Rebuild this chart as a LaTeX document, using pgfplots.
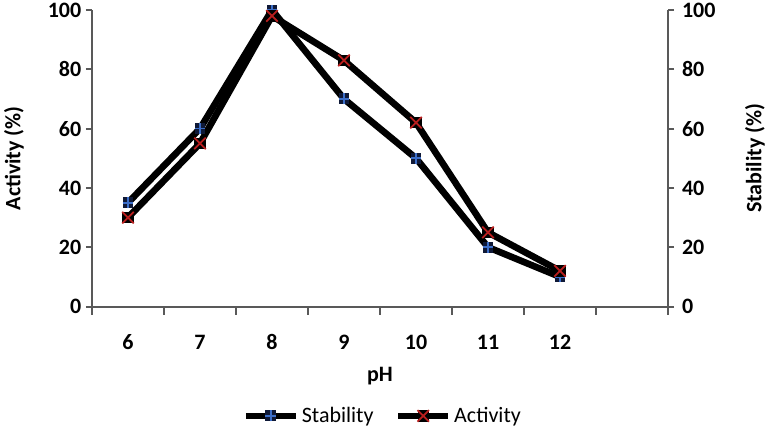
\documentclass[border=0pt]{standalone}
\usepackage{pgfplots}
\pgfplotsset{compat=1.18}
\usepackage{fontspec}
\setmainfont{Carlito}

\definecolor{axgray}{RGB}{89,89,89}
\definecolor{stabblue}{RGB}{60,110,200}
\definecolor{stabfill}{RGB}{15,25,55}
\definecolor{actred}{RGB}{185,30,30}

% filled square with a blue cross, as in the original
\pgfdeclareplotmark{sqplus}{%
  \pgfsetfillcolor{stabfill}%
  \pgfpathrectangle{\pgfpoint{-\pgfplotmarksize}{-\pgfplotmarksize}}{\pgfpoint{2\pgfplotmarksize}{2\pgfplotmarksize}}%
  \pgfusepathqfill
  \pgfsetstrokecolor{stabblue}%
  \pgfsetlinewidth{1.2pt}%
  \pgfpathmoveto{\pgfpoint{-\pgfplotmarksize}{0pt}}\pgfpathlineto{\pgfpoint{\pgfplotmarksize}{0pt}}%
  \pgfpathmoveto{\pgfpoint{0pt}{-\pgfplotmarksize}}\pgfpathlineto{\pgfpoint{0pt}{\pgfplotmarksize}}%
  \pgfusepathqstroke
}
% black square with a red diagonal cross
\pgfdeclareplotmark{sqx}{%
  \pgfsetfillcolor{black}%
  \pgfpathrectangle{\pgfpoint{-\pgfplotmarksize}{-\pgfplotmarksize}}{\pgfpoint{2\pgfplotmarksize}{2\pgfplotmarksize}}%
  \pgfusepathqfill
  \pgfsetstrokecolor{actred}%
  \pgfsetlinewidth{1.3pt}%
  \pgfpathmoveto{\pgfpoint{-\pgfplotmarksize}{-\pgfplotmarksize}}\pgfpathlineto{\pgfpoint{\pgfplotmarksize}{\pgfplotmarksize}}%
  \pgfpathmoveto{\pgfpoint{-\pgfplotmarksize}{\pgfplotmarksize}}\pgfpathlineto{\pgfpoint{\pgfplotmarksize}{-\pgfplotmarksize}}%
  \pgfusepathqstroke
}

\pgfplotstableread{
ph stab act
6  35 30
7  60 55
8  100 98
9  70 83
10 50 62
11 20 25
12 10 12
}\phdata

\pgfplotsset{
  common/.style={
    scale only axis, width=432pt, height=222.375pt,
    at={(69pt,92.625pt)}, anchor=south west,
    xmin=5.5, xmax=13.5, ymin=0, ymax=100,
    ytick={0,20,...,100},
    tick align=outside,
    axis line style={draw=axgray, line width=1.5pt},
    tick style={draw=axgray, line width=1.5pt},
    major tick length=4.5pt, minor tick length=6pt,
    /pgf/number format/assume math mode=true,
    ticklabel style={font=\bfseries\fontsize{16.5}{18}\selectfont},
    label style={font=\bfseries\fontsize{16.5}{18}\selectfont},
  },
}

\begin{document}
\begin{tikzpicture}
\useasboundingbox (0,0) rectangle (576pt,322.5pt);
\begin{axis}[common,
  axis x line*=bottom, axis y line*=left,
  xtick={6,...,12}, minor xtick={5.5,6.5,...,13.5},
  major x tick style={draw=none},
  xticklabel style={anchor=base, yshift=-27.4pt},
  xlabel={pH},
  xlabel style={at={(axis description cs:0.5,-0.2514)}, anchor=base},
  ylabel={Activity (\%)},
  ylabel style={at={(axis description cs:-0.1354,0.5)}, anchor=center, rotate=0},
  legend style={at={(axis description cs:0.5052,-0.369)}, anchor=center,
    draw=none, fill=none, legend columns=2,
    font=\fontsize{16.5}{18}\selectfont,
    /tikz/every even column/.append style={column sep=14pt}},
  legend image code/.code={%
    \draw[mark repeat=2, mark phase=2] plot coordinates {(0pt,0pt) (18.75pt,0pt) (37.5pt,0pt)};},
]
\addplot[black, line width=5pt, mark=sqplus, mark size=4.1pt,
  mark options={solid}] table[x=ph, y=stab] {\phdata};
\addlegendentry{Stability}
\addplot[black, line width=5pt, mark=sqx, mark size=4.3pt,
  mark options={solid}] table[x=ph, y=act] {\phdata};
\addlegendentry{Activity}
\end{axis}
\begin{axis}[common,
  axis x line=none, axis y line*=right,
  yticklabel style={xshift=2.5pt},
  ylabel={Stability (\%)},
  ylabel style={at={(axis description cs:1.151,0.5)}, anchor=center, rotate=0},
]
\end{axis}
\end{tikzpicture}
\end{document}
